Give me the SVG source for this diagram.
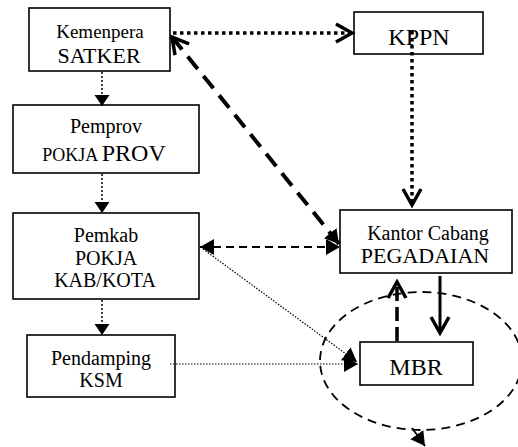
<svg xmlns="http://www.w3.org/2000/svg" width="518" height="447" viewBox="0 0 518 447">
<defs>
<style>
.box{fill:#fff;stroke:#000;stroke-width:1.6}
text{font-family:"Liberation Serif","Times New Roman",serif;fill:#000;text-anchor:middle}
.thin{fill:none;stroke:#000;stroke-width:1.5;stroke-dasharray:2 2}
.fine{fill:none;stroke:#000;stroke-width:1.2;stroke-dasharray:1.5 1.5}
.bolddot{fill:none;stroke:#000;stroke-width:3.5;stroke-dasharray:3.5 3.5}
.bigdash{fill:none;stroke:#000;stroke-width:4;stroke-dasharray:16 9}
.meddash{fill:none;stroke:#000;stroke-width:2;stroke-dasharray:8 5}
.updash{fill:none;stroke:#000;stroke-width:3.5;stroke-dasharray:14 6}
.solid{fill:none;stroke:#000;stroke-width:3}
.ell{fill:none;stroke:#000;stroke-width:1.8;stroke-dasharray:9 6}
</style>
<marker id="tri" markerUnits="userSpaceOnUse" markerWidth="14" markerHeight="16" refX="11" refY="7.5" orient="auto-start-reverse" viewBox="0 0 14 16">
<path d="M0,0 L11,7.5 L0,15 z" fill="#000"/>
</marker>
<marker id="trib" markerUnits="userSpaceOnUse" markerWidth="18" markerHeight="18" refX="14" refY="8" orient="auto-start-reverse" viewBox="0 0 18 18">
<path d="M0,0 L14,8 L0,16 z" fill="#000"/>
</marker>
<marker id="chev" markerUnits="userSpaceOnUse" markerWidth="24" markerHeight="24" refX="18" refY="11" orient="auto-start-reverse" viewBox="0 0 24 24" overflow="visible">
<path d="M2,2 L18,11 L2,20" fill="none" stroke="#000" stroke-width="3.5"/>
</marker>
</defs>
<rect width="518" height="447" fill="#fff"/>

<g id="satker">
<rect class="box" x="29" y="8" width="141" height="63"/>
<text x="100" y="38" font-size="19">Kemenpera</text>
<text x="99" y="63" font-size="22">SATKER</text>
</g>
<g id="kppn">
<rect class="box" x="354" y="12" width="129" height="42"/>
<text x="419" y="45" font-size="24">KPPN</text>
</g>
<g id="pokja-prov">
<rect class="box" x="13" y="105" width="186" height="68"/>
<text x="106" y="133" font-size="20">Pemprov</text>
<text x="104" y="161"><tspan font-size="18">POKJA </tspan><tspan font-size="24">PROV</tspan></text>
</g>
<g id="pokja-kab">
<rect class="box" x="13" y="213" width="186" height="86"/>
<text x="106" y="242" font-size="20">Pemkab</text>
<text x="106" y="265" font-size="20">POKJA</text>
<text x="105" y="287" font-size="20">KAB/KOTA</text>
</g>
<g id="pendamping">
<rect class="box" x="27" y="335" width="148" height="62"/>
<text x="101" y="365" font-size="20">Pendamping</text>
<text x="101" y="387" font-size="20">KSM</text>
</g>
<g id="pegadaian">
<rect class="box" x="340" y="210" width="172" height="63"/>
<text x="428" y="240" font-size="20">Kantor Cabang</text>
<text x="425" y="263" font-size="22">PEGADAIAN</text>
</g>
<g id="mbr">
<rect class="box" x="360" y="342" width="113" height="43"/>
<text x="416" y="375" font-size="24">MBR</text>
</g>

<g id="connectors">
<line class="thin" x1="102" y1="72" x2="102" y2="106" marker-end="url(#tri)"/>
<line class="thin" x1="102" y1="174" x2="102" y2="213" marker-end="url(#tri)"/>
<line class="thin" x1="102" y1="300" x2="102" y2="335" marker-end="url(#tri)"/>
<line class="bolddot" x1="173" y1="33" x2="352" y2="33" marker-end="url(#chev)"/>
<line class="bolddot" x1="412" y1="31" x2="412" y2="205" marker-end="url(#chev)"/>
<line class="bigdash" x1="172" y1="37" x2="339" y2="244" marker-start="url(#chev)" marker-end="url(#trib)"/>
<line class="meddash" x1="200" y1="247" x2="340" y2="247" marker-start="url(#trib)" marker-end="url(#trib)"/>
<line class="fine" x1="203" y1="249" x2="357" y2="362" marker-end="url(#trib)"/>
<line class="fine" x1="170" y1="364" x2="358" y2="364" marker-end="url(#trib)"/>
<line class="updash" x1="397" y1="341" x2="397" y2="282" marker-end="url(#chev)"/>
<line class="solid" x1="440" y1="276" x2="440" y2="333" marker-end="url(#chev)"/>
<ellipse class="ell" cx="421" cy="361" rx="101" ry="69"/>
<line class="ell" x1="412" y1="428" x2="425" y2="446" marker-end="url(#trib)"/>
</g>
</svg>
